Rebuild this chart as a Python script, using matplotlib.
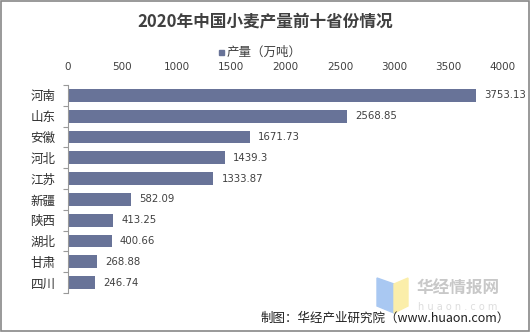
import matplotlib.pyplot as plt
from matplotlib.patches import Rectangle, Polygon

plt.rcParams['font.family'] = ['Noto Sans CJK SC', 'DejaVu Sans']

provinces = ["河南", "山东", "安徽", "河北", "江苏", "新疆", "陕西", "湖北", "甘肃", "四川"]
output = [3753.13, 2568.85, 1671.73, 1439.3, 1333.87, 582.09, 413.25, 400.66, 268.88, 246.74]
value_labels = ["3753.13", "2568.85", "1671.73", "1439.3", "1333.87",
                "582.09", "413.25", "400.66", "268.88", "246.74"]
x_ticks = [0, 500, 1000, 1500, 2000, 2500, 3000, 3500, 4000]

bar_color = "#687398"
W, H = 531, 334

fig = plt.figure(figsize=(W / 100, H / 100), dpi=100)
ax = fig.add_axes([68 / W, 1 - 293 / H, (503 - 68) / W, (293 - 85) / H])

ypos = list(range(len(provinces)))
ax.barh(ypos, output, height=0.62, color=bar_color, zorder=2)
ax.set_ylim(len(provinces) - 0.5, -0.5)
ax.set_xlim(0, 4000)

for y, v, lab in zip(ypos, output, value_labels):
    ax.annotate(lab, (v, y), xytext=(6, 0), textcoords="offset points",
                va="center", ha="left", fontsize=7.3, color="#404040",
                family="DejaVu Sans")

ax.xaxis.tick_top()
ax.set_xticks(x_ticks)
ax.set_xticklabels([str(t) for t in x_ticks], fontsize=7.5, color="#404040",
                   family="DejaVu Sans")
ax.tick_params(axis="x", length=0, pad=9)

ax.set_yticks(ypos)
ax.set_yticklabels(provinces, fontsize=9, color="#303030")
ax.set_yticks([y - 0.5 for y in range(len(provinces) + 1)], minor=True)
ax.tick_params(axis="y", which="major", length=0, pad=9)
ax.tick_params(axis="y", which="minor", length=3.5, color="#999999", width=0.8)

for s in ["top", "right", "bottom"]:
    ax.spines[s].set_visible(False)
ax.spines["left"].set_color("#999999")
ax.spines["left"].set_linewidth(0.8)

fig.text(265 / W, 1 - 22 / H, "2020年中国小麦产量前十省份情况", ha="center", va="center",
         fontsize=12, fontweight="bold", color="#404040")

# legend
fig.patches.append(Rectangle((219 / W, 1 - 55 / H), 5 / W, 5 / H,
                             transform=fig.transFigure, color=bar_color))
fig.text(227 / W, 1 - 52 / H, "产量（万吨）", ha="left", va="center",
         fontsize=9, color="#404040")

# watermark
fig.patches.append(Polygon([(377 / W, 1 - 278 / H), (394 / W, 1 - 284 / H),
                            (394 / W, 1 - 313 / H), (377 / W, 1 - 306 / H)],
                           closed=True, transform=fig.transFigure,
                           color="#a9c8f2", zorder=0))
fig.patches.append(Polygon([(394 / W, 1 - 284 / H), (408 / W, 1 - 278 / H),
                            (408 / W, 1 - 306 / H), (394 / W, 1 - 313 / H)],
                           closed=True, transform=fig.transFigure,
                           color="#fbeeaa", zorder=0))
fig.text(417 / W, 1 - 289 / H, "华经情报网", ha="left", va="center",
         fontsize=12, fontweight="bold", color="#c8c8c8")
fig.text(418 / W, 1 - 307 / H, "h u a o n . c o m", ha="left", va="center",
         fontsize=7, color="#dddddd", family="DejaVu Sans")

fig.text(510 / W, 1 - 318 / H, "制图：华经产业研究院（www.huaon.com）", ha="right",
         va="center", fontsize=9, color="#202020")

fig.patches.append(Rectangle((1 / W, 3 / H), 528 / W, 330 / H,
                             transform=fig.transFigure, fill=False,
                             edgecolor="#888888", linewidth=1.2))

fig.savefig("out.png", dpi=100)
